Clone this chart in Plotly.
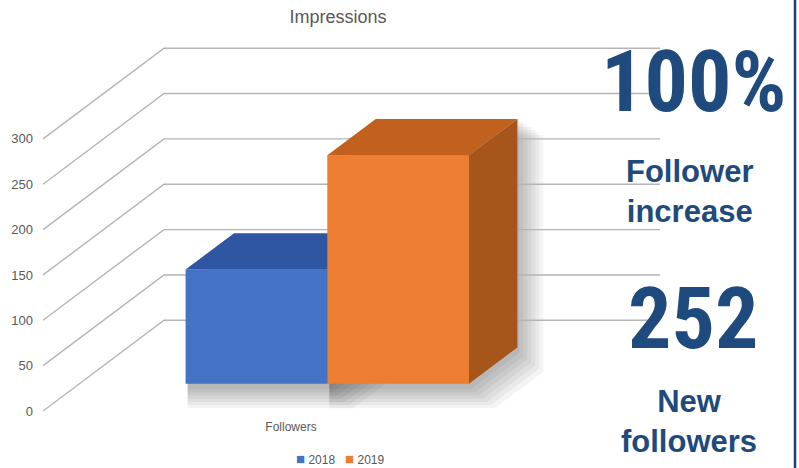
import plotly.graph_objects as go

# ---------------- data ----------------
categories = ["Followers"]
series_names = ["2018", "2019"]
followers_2018 = [126]
followers_2019 = [252]
y_tick_values = [0, 50, 100, 150, 200, 250, 300]
chart_title = "Impressions"

# ---------------- styling / projection constants ----------------
W, H = 799, 468
ML, MR, MT, MB = 43, 139, 30, 50
PX_PER_CAT = 496.0          # pixels per category unit on the front floor edge
PX_PER_VAL = 0.907          # pixels per value unit
FLOOR_PIX = 411.0           # pixel row of value 0 on the front plane
DEPTH_X = 121.0 / PX_PER_CAT  # oblique depth offset (category units)
DEPTH_V = 100.0               # oblique depth offset (value units)
GAP_WIDTH = 1.5
BW = 1.0 / (len(series_names) + GAP_WIDTH)
D0, D1 = 0.3, 0.7           # depth band occupied by the bars

front_cols = ["#4472C4", "#ED7D31"]
top_cols = ["#2F56A2", "#C2611E"]
side_cols = ["#27488A", "#A6561B"]
TEXT_BLUE = "#1F4A7D"

plot_w = W - ML - MR
plot_h = H - MT - MB
x_range = [-0.5, -0.5 + plot_w / PX_PER_CAT]
v_bottom = -((H - MB) - FLOOR_PIX) / PX_PER_VAL
y_range = [v_bottom, v_bottom + plot_h / PX_PER_VAL]


def proj(x, v, d):
    return x + d * DEPTH_X, v + d * DEPTH_V


def poly(points):
    xs = [p[0] for p in points] + [points[0][0]]
    ys = [p[1] for p in points] + [points[0][1]]
    return xs, ys


fig = go.Figure()

# ---------------- base layer: soft shadows + gridlines ----------------
series_values = [followers_2018, followers_2019]
n = len(series_names)
for k in range(7):
    for i, vals in enumerate(series_values):
        for c, v in enumerate(vals):
            xl = c + (i - (n - 1) / 2) * BW - BW / 2
            xr = xl + BW
            grow = 0.004 * k
            dv = -(6 + 3.5 * k)
            dx = 0.004 + 0.004 * k
            pts = [
                proj(xl - grow + dx, 0 + dv, D0),
                proj(xr + grow + dx, 0 + dv, D0),
                proj(xr + grow + dx, 0 + dv, D1),
                proj(xr + grow + dx, v - 3 * k, D1),
                proj(xl - grow + dx, v - 3 * k, D1),
                proj(xl - grow + dx, v - 3 * k, D0),
            ]
            xs, ys = poly(pts)
            fig.add_trace(go.Scatter(
                x=xs, y=ys, mode="lines", fill="toself",
                fillcolor="rgba(0,0,0,0.045)", line=dict(width=0),
                hoverinfo="skip", showlegend=False, xaxis="x", yaxis="y"))

gx, gy = [], []
for t in y_tick_values:
    for p in (proj(-0.5, t, 0), proj(-0.5, t, 1), proj(0.5, t, 1)):
        gx.append(p[0])
        gy.append(p[1])
    gx.append(None)
    gy.append(None)
fig.add_trace(go.Scatter(x=gx, y=gy, mode="lines",
                         line=dict(color="#B4B4B4", width=1.4),
                         hoverinfo="skip", showlegend=False,
                         xaxis="x", yaxis="y"))

# ---------------- bars, one overlaid layer per series ----------------
for i, (name, vals) in enumerate(zip(series_names, series_values)):
    xa = "x%d" % (i + 2)
    ya = "y%d" % (i + 2)
    for c, v in enumerate(vals):
        xl = c + (i - (n - 1) / 2) * BW - BW / 2
        xr = xl + BW
        # right side face
        xs, ys = poly([proj(xr, 0, D0), proj(xr, 0, D1),
                       proj(xr, v, D1), proj(xr, v, D0)])
        fig.add_trace(go.Scatter(x=xs, y=ys, mode="lines", fill="toself",
                                 fillcolor=side_cols[i], line=dict(width=0),
                                 hoverinfo="skip", showlegend=False,
                                 xaxis=xa, yaxis=ya))
        # top face
        xs, ys = poly([proj(xl, v, D0), proj(xr, v, D0),
                       proj(xr, v, D1), proj(xl, v, D1)])
        fig.add_trace(go.Scatter(x=xs, y=ys, mode="lines", fill="toself",
                                 fillcolor=top_cols[i], line=dict(width=0),
                                 hoverinfo="skip", showlegend=False,
                                 xaxis=xa, yaxis=ya))
    # front face (a real bar)
    centers = [c + (i - (n - 1) / 2) * BW + D0 * DEPTH_X for c in range(len(vals))]
    fig.add_trace(go.Bar(
        x=centers, y=vals, base=[D0 * DEPTH_V] * len(vals), width=[BW] * len(vals),
        name=name, marker=dict(color=front_cols[i], line=dict(width=0)),
        showlegend=False, xaxis=xa, yaxis=ya,
        hovertemplate=name + ": %{y}<extra></extra>"))

axis_font = dict(family="Liberation Sans, Arial, sans-serif", size=13, color="#595959")

layout_axes = {}
for j in (2, 3):
    layout_axes["xaxis%d" % j] = dict(overlaying="x", range=x_range, visible=False,
                                      fixedrange=True)
    layout_axes["yaxis%d" % j] = dict(overlaying="y", range=y_range, visible=False,
                                      fixedrange=True)


def px_to_paper(px, py):
    return (px - ML) / plot_w, ((H - MB) - py) / plot_h


ann = []
# legend (compact, as in the reference)
lx, ly = px_to_paper(340, 458)
ann.append(dict(
    x=lx, y=ly, xref="paper", yref="paper", showarrow=False,
    xanchor="center", yanchor="middle",
    text=('<span style="color:%s;font-size:15px">■</span> %s&nbsp;&nbsp;&nbsp;'
          '<span style="color:%s;font-size:15px">■</span> %s') % (
        front_cols[0], series_names[0], front_cols[1], series_names[1]),
    font=dict(family="Liberation Sans, Arial, sans-serif", size=12, color="#595959")))

big_font = dict(family="Roboto Condensed, Roboto, Liberation Sans, sans-serif",
                size=86, color=TEXT_BLUE, weight="bold")
lbl_font = dict(family="Liberation Sans, Arial, sans-serif", size=31,
                color=TEXT_BLUE, weight="bold")

for txt, cx, cy, f in [
    ("100%", 693, 82, big_font),
    ("Follower<br>increase", 689, 191, lbl_font),
    ("252", 693, 318, big_font),
    ("New<br>followers", 689, 421, lbl_font),
]:
    px, py = px_to_paper(cx, cy)
    ann.append(dict(x=px, y=py, xref="paper", yref="paper", showarrow=False,
                    xanchor="center", yanchor="middle", text=txt, font=f))

bx0, by0 = px_to_paper(795, 0)
bx1, by1 = px_to_paper(795, H)

fig.update_layout(
    width=W, height=H,
    margin=dict(l=ML, r=MR, t=MT, b=MB),
    paper_bgcolor="white", plot_bgcolor="white",
    title=dict(text=chart_title, x=338 / W, xref="container", xanchor="center",
               y=1 - 17 / H, yref="container", yanchor="middle",
               font=dict(family="Liberation Sans, Arial, sans-serif", size=18,
                         color="#595959")),
    xaxis=dict(range=x_range, showgrid=False, zeroline=False, showline=False,
               tickmode="array", tickvals=list(range(len(categories))),
               ticktext=categories, ticks="", tickfont=dict(
                   family="Liberation Sans, Arial, sans-serif", size=12,
                   color="#595959"), fixedrange=True),
    yaxis=dict(range=y_range, showgrid=False, zeroline=False, showline=False,
               tickmode="array", tickvals=y_tick_values, ticks="",
               ticklabelstandoff=9, tickfont=axis_font, fixedrange=True),
    showlegend=False,
    annotations=ann,
    shapes=[dict(type="line", xref="paper", yref="paper", x0=bx0, x1=bx1,
                 y0=by0, y1=by1, line=dict(color="#1F3F6E", width=2.5))],
    **layout_axes,
)

fig.write_html("out.html", config={"displayModeBar": False},
               post_script="document.body.style.margin='0px';")
